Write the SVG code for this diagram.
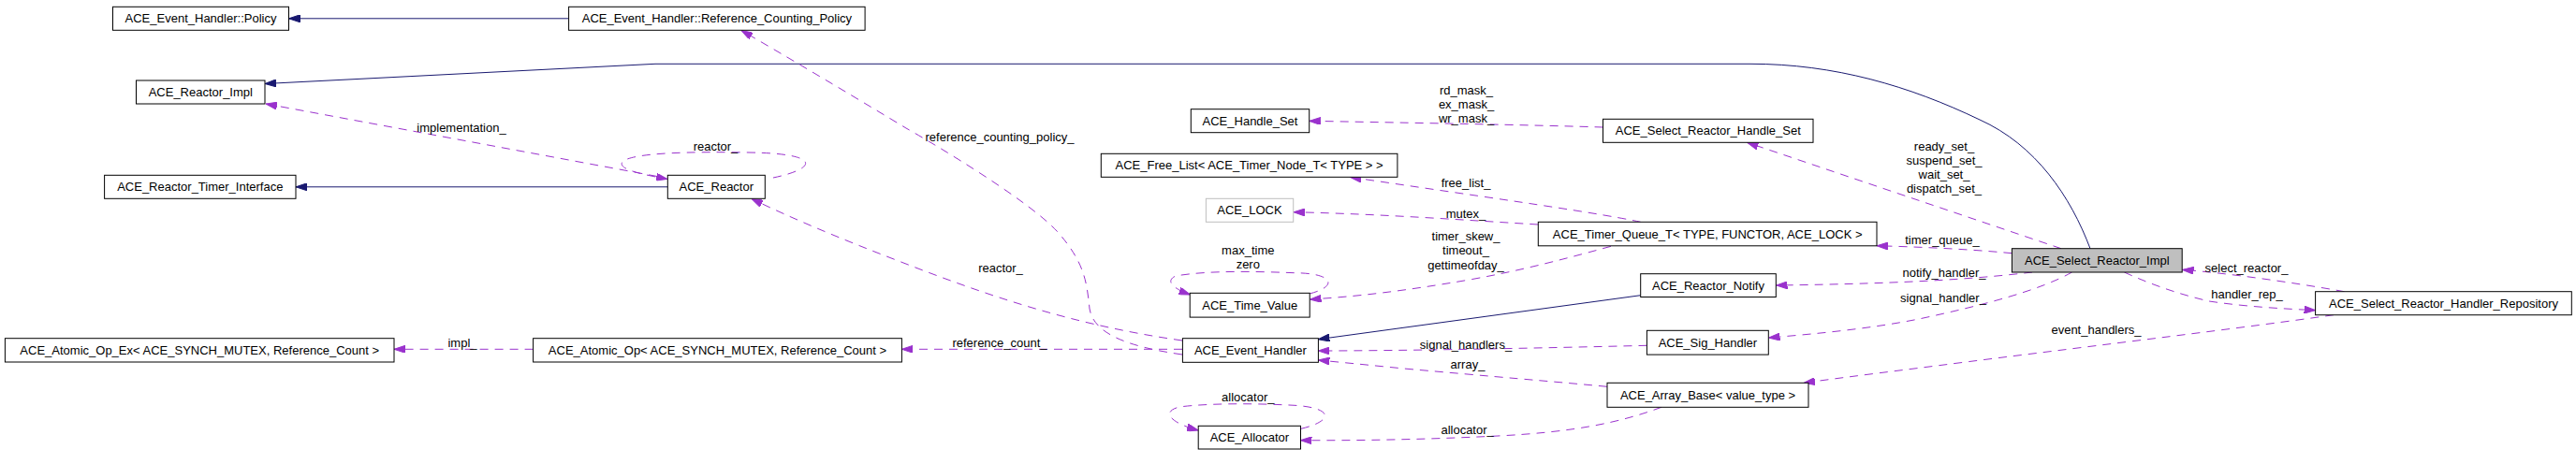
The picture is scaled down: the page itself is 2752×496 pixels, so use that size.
<svg xmlns="http://www.w3.org/2000/svg" width="2752" height="496" viewBox="0 0 2752 496">
<style>
text{font-family:"Liberation Sans",Arial,Helvetica,sans-serif;font-size:13px;fill:#000;text-anchor:middle}
.n rect{fill:#fff;stroke:#000;stroke-width:1}
.gray rect{stroke:#bfbfbf}
.cur rect{fill:#bfbfbf}
.g{fill:none;stroke:#191970;stroke-width:1}
.u{fill:none;stroke:#9a32cd;stroke-width:1;stroke-dasharray:9,7}
</style>
<defs>
<marker id="an" viewBox="0 0 12 8" refX="12" refY="4" markerWidth="12" markerHeight="8" markerUnits="userSpaceOnUse" orient="auto"><path d="M0,0 L12,4 L0,8 z" fill="#191970" stroke="#191970" stroke-width="1"/></marker>
<marker id="ap" viewBox="0 0 12 8" refX="12" refY="4" markerWidth="12" markerHeight="8" markerUnits="userSpaceOnUse" orient="auto"><path d="M0,0 L12,4 L0,8 z" fill="#9a32cd" stroke="#9a32cd" stroke-width="1"/></marker>
</defs>
<rect width="2752" height="496" fill="#fff"/>
<g id="edges">
<path class="g" marker-end="url(#an)" d="M607.6,19.8 L308.5,19.8"/>
<path class="g" marker-end="url(#an)" d="M2233,265.7 C2212,210 2175,155 2115,128 C2040,92 1960,68.3 1870,68.3 L700,68.3 L283,89.5"/>
<path class="g" marker-end="url(#an)" d="M713.3,199.8 L316,199.8"/>
<path class="g" marker-end="url(#an)" d="M1752.7,315.7 L1408.3,362.7"/>
<path class="u" marker-end="url(#ap)" d="M702,188.5 L284,111"/>
<path class="u" marker-end="url(#ap)" d="M826,190 C874,180 878,164 800,163 C740,162 680,163 666,172 C656,181 690,187 713,191.5"/>
<path class="u" marker-end="url(#ap)" d="M1263,364 C1150,348 1060,318 960,279 C900,256 845,233 803,212.5"/>
<path class="u" marker-end="url(#ap)" d="M1263,379 C1200,370 1168,355 1164,330 C1161,300 1158,280 1130,248 C1100,215 1000,155 968,137 C920,108 860,72 792,32.5"/>
<path class="u" marker-end="url(#ap)" d="M1263,373.3 L963.4,373.3"/>
<path class="u" marker-end="url(#ap)" d="M569.6,373.3 L421,373.3"/>
<path class="u" marker-end="url(#ap)" d="M1399,314 C1430,306 1425,292 1383,291.7 C1340,290 1290,289 1256,295 C1245,300 1252,308 1271.5,315"/>
<path class="u" marker-end="url(#ap)" d="M1721,263.3 C1660,280 1620,290 1570,299 C1500,311 1450,317 1399.5,320"/>
<path class="u" marker-end="url(#ap)" d="M1390,458.3 C1425,450 1425,436 1383,433.3 C1340,431 1290,431 1260,435 C1240,440 1250,452 1280.2,460"/>
<path class="u" marker-end="url(#ap)" d="M1775,435.3 C1730,452 1680,462 1600,466 C1520,470 1450,471 1389.5,470.7"/>
<path class="u" marker-end="url(#ap)" d="M1759.4,369.3 C1650,372 1500,375 1408.4,375"/>
<path class="u" marker-end="url(#ap)" d="M1717,413.3 C1650,407 1600,403 1500,394 C1460,390 1430,387 1408.4,385"/>
<path class="u" marker-end="url(#ap)" d="M2202,265.7 L1866.5,152.3"/>
<path class="u" marker-end="url(#ap)" d="M1712.5,136 C1650,134 1550,132 1398.7,129.3"/>
<path class="u" marker-end="url(#ap)" d="M1752.7,237.3 C1700,226 1560,207 1442.4,189.3"/>
<path class="u" marker-end="url(#ap)" d="M1643.3,240 C1560,235 1480,229 1382,226.7"/>
<path class="u" marker-end="url(#ap)" d="M2149.4,270.7 C2100,266 2050,264 2005,262.7"/>
<path class="u" marker-end="url(#ap)" d="M2171,291 C2120,297 2050,303 1897.5,305"/>
<path class="u" marker-end="url(#ap)" d="M2213.5,291 C2180,310 2120,326 2050,341 C2000,351 1940,357 1889.5,361"/>
<path class="u" marker-end="url(#ap)" d="M2493,336.7 C2400,350 2250,368 2100,387 C2030,396 1980,402 1927,409.3"/>
<path class="u" marker-end="url(#ap)" d="M2504.5,311.7 C2450,302 2380,292 2331.5,288.3"/>
<path class="u" marker-end="url(#ap)" d="M2269.4,291 C2300,305 2330,315 2360,322 C2400,328 2440,330 2473.6,331.7"/>
<text x="493" y="141.2">implementation_</text>
<text x="764.5" y="160.5">reactor_</text>
<text x="1068" y="151.2">reference_counting_policy_</text>
<text x="1069" y="291.2">reactor_</text>
<text x="1068" y="371.2">reference_count_</text>
<text x="494" y="371.2">impl_</text>
<text x="1333.3" y="271.8">max_time</text>
<text x="1333.3" y="287.2">zero</text>
<text x="1566" y="257.2">timer_skew_</text>
<text x="1566" y="272.2">timeout_</text>
<text x="1566" y="287.8">gettimeofday_</text>
<text x="1333.3" y="428.5">allocator_</text>
<text x="1567.6" y="463.5">allocator_</text>
<text x="1566" y="372.8">signal_handlers_</text>
<text x="1568" y="393.5">array_</text>
<text x="1566.5" y="101.2">rd_mask_</text>
<text x="1566.5" y="116.2">ex_mask_</text>
<text x="1566.5" y="131.2">wr_mask_</text>
<text x="1566" y="200.2">free_list_</text>
<text x="1566" y="232.8">mutex_</text>
<text x="2077" y="161.2">ready_set_</text>
<text x="2077" y="176.2">suspend_set_</text>
<text x="2077" y="191.2">wait_set_</text>
<text x="2077" y="205.5">dispatch_set_</text>
<text x="2075" y="261.2">timer_queue_</text>
<text x="2077" y="295.5">notify_handler_</text>
<text x="2076" y="322.5">signal_handler_</text>
<text x="2239.5" y="357.2">event_handlers_</text>
<text x="2400" y="291.2">select_reactor_</text>
<text x="2400.5" y="318.8">handler_rep_</text>
</g>
<g id="policy" class="n"><rect x="120.5" y="7.3" width="188" height="25"/><text x="214.5" y="24.3">ACE_Event_Handler::Policy</text></g>
<g id="ref_counting_policy" class="n"><rect x="607.6" y="7.3" width="316.5" height="25"/><text x="765.9" y="24.3">ACE_Event_Handler::Reference_Counting_Policy</text></g>
<g id="reactor_impl" class="n"><rect x="145.5" y="86" width="137.5" height="25"/><text x="214.3" y="103">ACE_Reactor_Impl</text></g>
<g id="reactor_timer_interface" class="n"><rect x="111.6" y="187.3" width="204.4" height="25"/><text x="213.8" y="204.3">ACE_Reactor_Timer_Interface</text></g>
<g id="reactor" class="n"><rect x="713.3" y="187.3" width="104" height="25"/><text x="765.3" y="204.3">ACE_Reactor</text></g>
<g id="handle_set" class="n"><rect x="1272.3" y="116.7" width="126.4" height="25"/><text x="1335.5" y="133.7">ACE_Handle_Set</text></g>
<g id="free_list" class="n"><rect x="1176.3" y="164.3" width="316.6" height="25"/><text x="1334.6" y="181.3">ACE_Free_List&lt; ACE_Timer_Node_T&lt; TYPE &gt; &gt;</text></g>
<g id="ace_lock" class="n gray"><rect x="1288.4" y="212.3" width="93.3" height="25"/><text x="1335" y="229.3">ACE_LOCK</text></g>
<g id="select_reactor_handle_set" class="n"><rect x="1712.5" y="127.3" width="224.5" height="25"/><text x="1824.8" y="144.3">ACE_Select_Reactor_Handle_Set</text></g>
<g id="timer_queue_t" class="n"><rect x="1643.3" y="237.3" width="361.7" height="25.5"/><text x="1824.2" y="254.5">ACE_Timer_Queue_T&lt; TYPE, FUNCTOR, ACE_LOCK &gt;</text></g>
<g id="select_reactor_impl" class="n cur"><rect x="2149.4" y="265.7" width="181.8" height="25.3"/><text x="2240.3" y="282.8">ACE_Select_Reactor_Impl</text></g>
<g id="handler_repository" class="n"><rect x="2473.6" y="311.7" width="273.7" height="25"/><text x="2610.5" y="328.7">ACE_Select_Reactor_Handler_Repository</text></g>
<g id="reactor_notify" class="n"><rect x="1752.7" y="292.7" width="144.6" height="24.8"/><text x="1825" y="309.6">ACE_Reactor_Notify</text></g>
<g id="sig_handler" class="n"><rect x="1759.4" y="353.3" width="129.9" height="25.8"/><text x="1824.4" y="370.7">ACE_Sig_Handler</text></g>
<g id="time_value" class="n"><rect x="1271.2" y="313.3" width="128" height="25.8"/><text x="1335.2" y="330.7">ACE_Time_Value</text></g>
<g id="event_handler" class="n"><rect x="1263.4" y="361.7" width="145" height="25.6"/><text x="1335.9" y="379">ACE_Event_Handler</text></g>
<g id="atomic_op_ex" class="n"><rect x="5.4" y="361.7" width="415.6" height="25.3"/><text x="213.2" y="378.9">ACE_Atomic_Op_Ex&lt; ACE_SYNCH_MUTEX, Reference_Count &gt;</text></g>
<g id="atomic_op" class="n"><rect x="569.6" y="361.7" width="393.8" height="25.3"/><text x="766.5" y="378.9">ACE_Atomic_Op&lt; ACE_SYNCH_MUTEX, Reference_Count &gt;</text></g>
<g id="array_base" class="n"><rect x="1717" y="409.3" width="215" height="26"/><text x="1824.5" y="426.8">ACE_Array_Base&lt; value_type &gt;</text></g>
<g id="allocator" class="n"><rect x="1280.2" y="455.3" width="109.3" height="24.7"/><text x="1334.9" y="472.2">ACE_Allocator</text></g>
</svg>
